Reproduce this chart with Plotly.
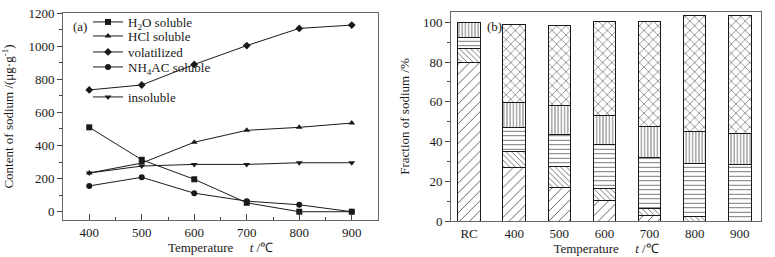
import plotly.graph_objects as go

# ---------------- data ----------------
temps = [400, 500, 600, 700, 800, 900]
h2o_soluble = [510, 314, 196, 54, 0, 0]
hcl_soluble = [234, 294, 420, 492, 510, 536]
volatilized = [736, 766, 890, 1004, 1108, 1128]
nh4ac_soluble = [156, 208, 112, 64, 42, 0]
insoluble = [234, 276, 286, 286, 296, 296]

bar_cats = ["RC", "400", "500", "600", "700", "800", "900"]
frac_h2o = [80.0, 26.8, 16.8, 10.4, 2.9, 0.0, 0.0]
frac_nh4ac = [6.7, 8.1, 10.7, 6.0, 3.5, 2.3, 0.0]
frac_hcl = [5.7, 12.2, 16.0, 21.9, 25.6, 26.7, 28.2]
frac_insol = [7.6, 12.6, 14.4, 14.9, 15.5, 16.0, 15.9]
frac_vol = [0.0, 39.0, 40.6, 47.0, 52.7, 58.5, 59.4]

y_ticks_a = [0, 200, 400, 600, 800, 1000, 1200]
x_ticks_a = [400, 500, 600, 700, 800, 900]
y_ticks_b = [0, 20, 40, 60, 80, 100]

FONT = "Liberation Serif"
INK = "#1a1a1a"
W, H = 775, 257
MT, MB = 12, 36
PH = H - MT - MB

fig = go.Figure()

# ---------------- panel (a) ----------------
series = [
    ("H<sub>2</sub>O soluble", h2o_soluble, "square", 22),
    ("HCl soluble", hcl_soluble, "triangle-up", 36),
    ("volatilized", volatilized, "diamond", 52),
    ("NH<sub>4</sub>AC soluble", nh4ac_soluble, "circle", 67),
    ("insoluble", insoluble, "triangle-down", 97),
]
legend_layout = {}
for i, (name, vals, sym, row) in enumerate(series):
    lname = "legend" if i == 0 else f"legend{i + 1}"
    fig.add_trace(go.Scatter(
        x=temps, y=vals, name=name, mode="lines+markers",
        line=dict(color=INK, width=1),
        marker=dict(symbol=sym, size=6, color=INK, line=dict(width=0)),
        xaxis="x", yaxis="y", legend=lname,
    ))
    legend_layout[lname] = dict(
        x=88 / W, xanchor="left",
        y=1 - (row - MT) / PH, yanchor="middle",
        bgcolor="rgba(0,0,0,0)", borderwidth=0,
        font=dict(family=FONT, size=13, color=INK),
        itemwidth=30, tracegroupgap=0,
    )

# ---------------- panel (b) ----------------
bar_specs = [
    ("H2O", frac_h2o, "/", 7, 0.12),
    ("NH4AC", frac_nh4ac, "\\", 4, 0.18),
    ("HCl", frac_hcl, "-", 4.5, 0.16),
    ("insol", frac_insol, "|", 3.2, 0.22),
    ("vol", frac_vol, "x", 6.5, 0.16),
]
for name, vals, shape, size, sol in bar_specs:
    fig.add_trace(go.Bar(
        x=bar_cats, y=vals, name=name, width=0.5, showlegend=False,
        marker=dict(
            color="white",
            line=dict(color=INK, width=1),
            pattern=dict(shape=shape, fgcolor="#444", bgcolor="white",
                         size=size, solidity=sol, fillmode="replace"),
        ),
        xaxis="x2", yaxis="y2",
    ))

axis_line = dict(showline=True, linecolor="#666", linewidth=1, mirror=True,
                 showgrid=False, zeroline=False,
                 tickfont=dict(family=FONT, size=13, color=INK))

xtitle = "Temperature\u00a0\u00a0\u00a0\u00a0\u00a0<i>t</i> /\u2103"

fig.update_layout(
    width=W, height=H,
    margin=dict(l=0, r=0, t=MT, b=MB),
    paper_bgcolor="white", plot_bgcolor="white",
    barmode="stack",
    font=dict(family=FONT, size=13, color=INK),
    xaxis=dict(domain=[63 / W, 378 / W], range=[350, 950],
               tickvals=x_ticks_a, ticks="inside", ticklen=6, tickcolor="#444",
               minor=dict(ticks="inside", ticklen=3, dtick=50, tickcolor="#444"),
               title=dict(text=xtitle, font=dict(family=FONT, size=13, color=INK), standoff=2),
               anchor="y", **axis_line),
    yaxis=dict(domain=[1 / PH, 1 - 1 / PH], range=[-50, 1201],
               tickvals=y_ticks_a, ticks="outside", ticklen=5, tickcolor="#444",
               minor=dict(ticks="outside", ticklen=3, dtick=100, tickcolor="#444"),
               title=dict(text="Content of sodium /(\u03bcg\u00b7g<sup>-1</sup>)",
                          font=dict(family=FONT, size=13, color=INK), standoff=12),
               anchor="x", **axis_line),
    xaxis2=dict(domain=[451 / W, 761 / W], range=[-0.4, 6.47],
                type="category", ticks="",
                title=dict(text=xtitle, font=dict(family=FONT, size=13, color=INK), standoff=2),
                anchor="y2", **axis_line),
    yaxis2=dict(domain=[0, 1], range=[0, 105.2],
                tickvals=y_ticks_b, ticks="outside", ticklen=5, tickcolor="#444",
                minor=dict(ticks="outside", ticklen=3, dtick=10, tickcolor="#444"),
                title=dict(text="Fraction of sodium /%",
                           font=dict(family=FONT, size=13, color=INK), standoff=10),
                anchor="x2", **axis_line),
    annotations=[
        dict(text="(a)", xref="paper", yref="paper", x=71 / W, xanchor="left",
             y=1 - (26 - MT) / PH, yanchor="middle", showarrow=False,
             font=dict(family=FONT, size=13, color=INK)),
        dict(text="(b)", xref="paper", yref="paper", x=485 / W, xanchor="left",
             y=1 - (26 - MT) / PH, yanchor="middle", showarrow=False,
             font=dict(family=FONT, size=13, color=INK)),
    ],
    **legend_layout,
)

fig.write_html(
    "out.html",
    config={"displayModeBar": False},
    post_script="document.body.style.margin='0';document.body.style.overflow='hidden';",
)
